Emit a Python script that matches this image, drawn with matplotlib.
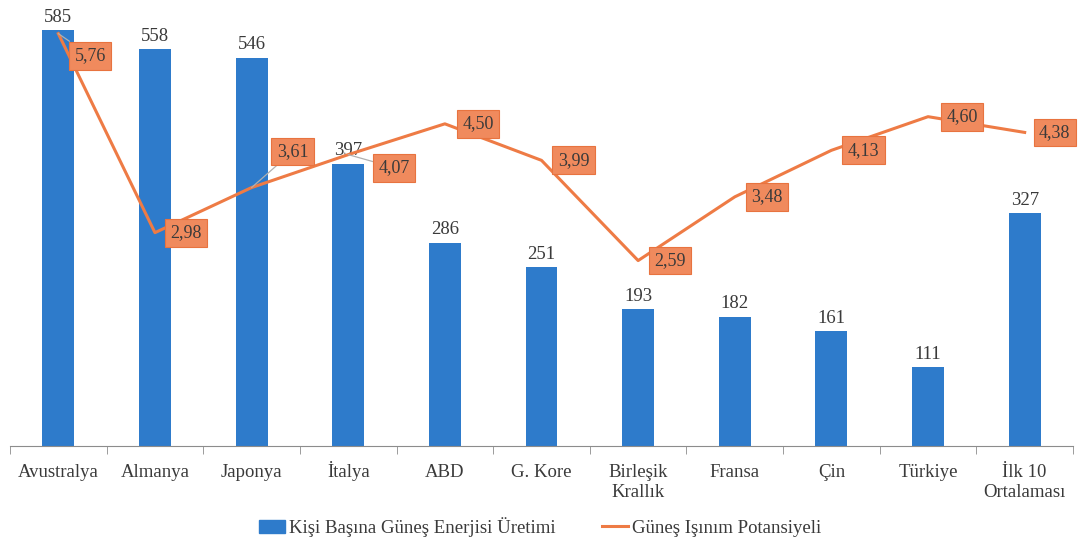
import numpy as np
import matplotlib as mpl
mpl.use('Agg')
import matplotlib.pyplot as plt
from matplotlib.lines import Line2D
from matplotlib.patches import Patch

ulkeler = ['Avustralya', 'Almanya', 'Japonya', 'İtalya', 'ABD', 'G. Kore',
           'Birleşik\nKrallık', 'Fransa', 'Çin', 'Türkiye', 'İlk 10\nOrtalaması']
uretim = [585, 558, 546, 397, 286, 251, 193, 182, 161, 111, 327]
isinim = [5.76, 2.98, 3.61, 4.07, 4.50, 3.99, 2.59, 3.48, 4.13, 4.60, 4.38]
isinim_etiket = ['5,76', '2,98', '3,61', '4,07', '4,50', '3,99', '2,59', '3,48', '4,13', '4,60', '4,38']

# label offsets in pixels (dx, dy), placement only
ofs = [(32, -22), (31, 0), (41, 36), (46, -13), (33, 0), (32, 0),
       (32, 0), (32, 0), (32, 0), (34, 0), (30, 0)]

mavi = '#2E7BCB'
turuncu = '#EE7B45'
yazi = '#3a3a3a'
serif = ['Liberation Serif', 'DejaVu Serif']

fig = plt.figure(figsize=(10.8, 5.45), dpi=100)
ax = fig.add_axes([10/1080, 1 - 446/545, 1063/1080, 436/545])
x = np.arange(len(ulkeler))

bars = ax.bar(x, uretim, width=0.33, color=mavi, zorder=2)
ax.bar_label(bars, labels=[str(v) for v in uretim], padding=3,
             fontsize=13.5, color=yazi, family=serif)
ax.set_xlim(-0.5, len(ulkeler) - 0.5)
ax.set_ylim(0, 613)
ax.set_yticks([])
for s in ['top', 'left', 'right']:
    ax.spines[s].set_visible(False)
ax.spines['bottom'].set_color('#8c8c8c')
ax.set_xticks(x)
ax.set_xticklabels([])
ax.tick_params(axis='x', which='major', length=0)
ax.set_xticks(np.arange(-0.5, len(ulkeler)), minor=True)
ax.tick_params(axis='x', which='minor', length=6, color='#8c8c8c')

# category labels, each line on a common baseline
for i, ad in enumerate(ulkeler):
    for j, satir in enumerate(ad.split('\n')):
        ax.annotate(satir, (x[i], 0), xycoords=('data', 'axes fraction'),
                    xytext=(0, -31 - 20 * j), textcoords='offset pixels',
                    ha='center', va='baseline', fontsize=13.5, color=yazi,
                    family=serif, annotation_clip=False)

ax2 = ax.twinx()
ax2.set_ylim(0, 6.09)
ax2.axis('off')
ax2.plot(x, isinim, color=turuncu, lw=2.2, zorder=3)
for i in range(len(x)):
    dx, dy = ofs[i]
    arrow = None
    if i in (0, 2, 3):
        arrow = dict(arrowstyle='-', color='#b0b0b0', lw=0.9, shrinkA=0, shrinkB=0)
    ax2.annotate(isinim_etiket[i], (x[i], isinim[i]), xytext=(dx, dy),
                 textcoords='offset pixels', ha='center', va='center',
                 fontsize=13, color=yazi, family=serif,
                 bbox=dict(boxstyle='square,pad=0.3', fc='#F08A5D', ec='#E8733F', lw=0.8),
                 arrowprops=arrow, zorder=4)

handles = [Patch(color=mavi), Line2D([0], [0], color=turuncu, lw=2.2)]
fig.legend(handles, ['Kişi Başına Güneş Enerjisi Üretimi', 'Güneş Işınım Potansiyeli'],
           loc='center', bbox_to_anchor=(0.5, 1 - 527/545), ncol=2, frameon=False,
           prop={'family': serif, 'size': 13.5}, labelcolor=yazi,
           handlelength=1.4, handletextpad=0.2, columnspacing=2.5)

fig.savefig('out.png', dpi=100)
